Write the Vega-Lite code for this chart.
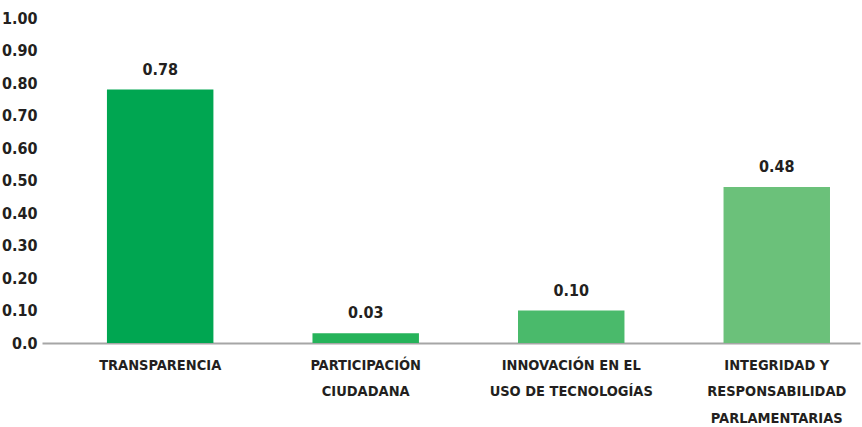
{
  "$schema": "https://vega.github.io/schema/vega-lite/v6.json",
  "autosize": "none",
  "padding": {"left": 42, "top": 18, "right": 2, "bottom": 84},
  "width": 818,
  "height": 325,
  "background": "white",
  "config": {
    "view": {"stroke": null},
    "font": "DejaVu Sans Condensed, sans-serif"
  },
  "data": {
    "values": [
      {"categoria": "TRANSPARENCIA", "valor": 0.78, "color": "#00A651"},
      {"categoria": "PARTICIPACIÓN CIUDADANA", "valor": 0.03, "color": "#26B35A"},
      {"categoria": "INNOVACIÓN EN EL USO DE TECNOLOGÍAS", "valor": 0.10, "color": "#4ABA6B"},
      {"categoria": "INTEGRIDAD Y RESPONSABILIDAD PARLAMENTARIAS", "valor": 0.48, "color": "#6BC17A"}
    ]
  },
  "encoding": {
    "x": {
      "field": "categoria",
      "type": "nominal",
      "sort": null,
      "scale": {"paddingInner": 0.482, "paddingOuter": 0.231, "align": 0.684},
      "axis": {
        "title": null,
        "labelAngle": 0,
        "ticks": false,
        "domainColor": "#a6a6a6",
        "domainWidth": 2,
        "labelFont": "DejaVu Sans Condensed, sans-serif",
        "labelFontWeight": "bold",
        "labelFontSize": 14.5,
        "labelColor": "#231f20",
        "labelPadding": 15,
        "labelLimit": 0,
        "labelLineHeight": 26.5,
        "labelBaseline": "top",
        "labelExpr": "datum.label == 'PARTICIPACIÓN CIUDADANA' ? ['PARTICIPACIÓN', 'CIUDADANA'] : datum.label == 'INNOVACIÓN EN EL USO DE TECNOLOGÍAS' ? ['INNOVACIÓN EN EL', 'USO DE TECNOLOGÍAS'] : datum.label == 'INTEGRIDAD Y RESPONSABILIDAD PARLAMENTARIAS' ? ['INTEGRIDAD Y', 'RESPONSABILIDAD', 'PARLAMENTARIAS'] : datum.label"
      }
    },
    "y": {
      "field": "valor",
      "type": "quantitative",
      "scale": {"domain": [0, 1], "nice": false},
      "axis": {
        "title": null,
        "values": [0, 0.1, 0.2, 0.3, 0.4, 0.5, 0.6, 0.7, 0.8, 0.9, 1.0],
        "grid": false,
        "ticks": false,
        "domain": false,
        "labelFont": "DejaVu Sans Condensed, sans-serif",
        "labelFontWeight": "bold",
        "labelFontSize": 16,
        "labelColor": "#231f20",
        "labelPadding": 5,
        "labelExpr": "datum.value == 0 ? '0.0' : format(datum.value, '.2f')"
      }
    }
  },
  "layer": [
    {
      "mark": {"type": "bar"},
      "encoding": {
        "color": {"field": "color", "type": "nominal", "scale": null}
      }
    },
    {
      "mark": {
        "type": "text",
        "dy": -15,
        "baseline": "alphabetic",
        "font": "DejaVu Sans Condensed, sans-serif",
        "fontWeight": "bold",
        "fontSize": 16,
        "color": "#231f20"
      },
      "encoding": {
        "text": {"field": "valor", "type": "quantitative", "format": ".2f"}
      }
    }
  ]
}
